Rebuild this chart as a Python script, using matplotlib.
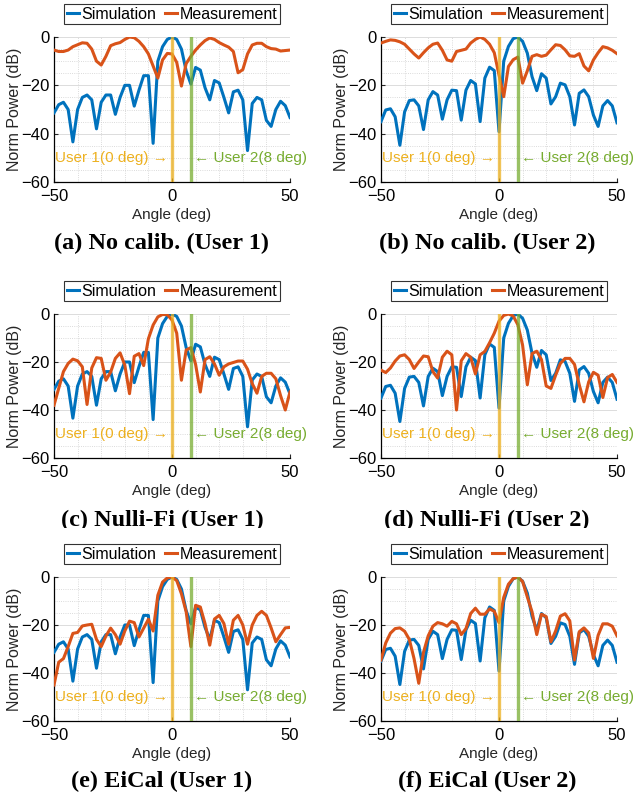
import numpy as np
import matplotlib
matplotlib.use('Agg')
import matplotlib.pyplot as plt
from matplotlib.ticker import MultipleLocator
from matplotlib.patches import Rectangle

plt.rcParams['font.family'] = ['Liberation Sans', 'DejaVu Sans']

# angle grid (deg)
angle = np.arange(-50, 51, 2)

# simulated beam patterns (dB), same in every row
sim_user1 = [-31.4, -28, -27, -30, -43.4, -30, -25, -24, -26, -38,
             -27, -24, -24, -32, -25, -20, -20, -28.6, -22, -16,
             -16, -44, -10, -4, -1, 0, -1, -5, -14, -19.5,
             -12.6, -13.7, -21, -26, -18, -19, -25, -31.4, -22.7, -22,
             -26, -47, -27.5, -25, -26, -34.5, -37, -30, -26.6, -28.4, -33.3]
sim_user2 = [-35, -30.2, -29.7, -33, -44.8, -31, -26.3, -26, -28.5, -38.3,
             -26, -22.6, -24, -34, -26, -22, -22.2, -34.4, -22, -18,
             -19.4, -35, -17, -12.5, -13.9, -39.2, -10, -3.9, -0.7, 0,
             -1.8, -6.7, -16.4, -22.2, -15.2, -17, -27.7, -24.7, -19.1, -19.8,
             -24.7, -36.4, -23.3, -21.9, -24.7, -32.3, -37, -28.5, -26.3, -28.5, -35.5]

# measured beam patterns (dB)
meas_nocal_user1 = [-5.4, -6, -6, -5.4, -4, -3.2, -2.4, -2.6, -5, -10,
                    -11.6, -8, -3.6, -2.8, -2.3, -1, 0, -0.3, -1.8, -4,
                    -7, -12, -17, -9.5, -6.8, -7, -10.5, -20.3, -11, -8,
                    -5.4, -3.3, -1.5, -0.4, -1, -2.3, -3.3, -4.2, -6, -14.8,
                    -13.5, -7, -3.3, -2.6, -2.6, -4, -4.8, -5, -5.8, -5.6, -5.4]
meas_nocal_user2 = [-2.5, -1.8, -1.2, -1.4, -2, -3, -5, -7, -8.7, -6.5,
                    -4.5, -3, -2.5, -5.5, -9.5, -10, -6, -5.5, -5, -2.5,
                    -1, 0, -1, -3, -6.5, -15.7, -24.7, -12.2, -9.4, -8.3,
                    -19.1, -14, -8, -7.3, -8, -7.5, -5.3, -3.2, -3.5, -5.3,
                    -7.8, -8, -6.9, -12, -14, -9.5, -6.5, -4, -4.5, -5.5, -6.9]
meas_nullifi_user1 = [-38, -31, -24, -20.6, -18.8, -19.5, -22, -37.7, -22.5, -18.2,
                      -18.5, -27.6, -24.2, -18.5, -16.2, -21.3, -33.2, -17.6, -16.5, -21.5,
                      -10.3, -4.6, -1.2, -0.2, -0.3, -2.5, -8, -27.6, -15, -14,
                      -21, -32.5, -19, -17.8, -20.8, -25.5, -22, -20.8, -20.2, -19.6,
                      -19.6, -23, -29, -33, -26, -24.7, -24.7, -27, -34, -40, -32.5]
meas_nullifi_user2 = [-23.4, -24.4, -22.5, -19.6, -17.5, -17, -19, -22.7, -20, -17.5,
                      -17.8, -24, -26.7, -18, -15.5, -17, -40, -19.5, -16.5, -18,
                      -25, -17, -15.6, -12, -8, -3, -0.6, 0, -0.8, -4.5,
                      -13, -29.5, -16.5, -15.5, -19, -30, -31, -25.5, -20.6, -18.5,
                      -18.5, -21, -29.5, -36.6, -28.3, -24.3, -25.5, -34.8, -26.5, -25.2, -28.5]
meas_eical_user1 = [-45, -35.5, -34, -29, -23.5, -23.1, -20.4, -20, -19.7, -26,
                    -29, -24.6, -21.3, -24, -28, -22.5, -18.4, -19, -25, -21.3,
                    -17.6, -22.5, -7.6, -2.1, -0.4, 0, -1.5, -7, -14.5, -29,
                    -11.8, -12.5, -19.4, -28.4, -17.5, -16, -19.4, -28, -18, -16,
                    -20, -28, -20, -16, -14.3, -16, -21.2, -27, -24, -21.2, -21]
meas_eical_user2 = [-34.6, -27.5, -23.4, -21.5, -21.2, -22.6, -26, -34, -44.3, -31.4,
                    -24.5, -20.5, -19, -19.5, -20.5, -18.5, -19.5, -24, -21.5, -15.2,
                    -13, -15.5, -15.5, -13.3, -14.3, -19, -8.5, -3, -0.7, 0,
                    -1.9, -8.3, -14.5, -24, -15.5, -16.5, -27, -22.5, -16.3, -15.3,
                    -18.3, -34.6, -22.8, -21.2, -23.3, -33.9, -24.3, -19.5, -19.5, -20.5, -24.5]

captions = ['(a) No calib. (User 1)', '(b) No calib. (User 2)',
            '(c) Nulli-Fi (User 1)', '(d) Nulli-Fi (User 2)',
            '(e) EiCal (User 1)', '(f) EiCal (User 2)']
sims = [sim_user1, sim_user2] * 3
meas = [meas_nocal_user1, meas_nocal_user2,
        meas_nullifi_user1, meas_nullifi_user2,
        meas_eical_user1, meas_eical_user2]

W, H = 633, 799
fig = plt.figure(figsize=(W / 100, H / 100), dpi=100)

col_lr = [(54, 290), (381, 617)]
row_tb = [(37, 182), (314, 458), (577, 721)]
cap_x = [162, 487]
cap_y = [243, 520, 781]

blue, red = '#0072BD', '#D95319'
yellow, green = '#EDB120', '#77AC30'

for i in range(6):
    r, c = divmod(i, 2)
    left, right = col_lr[c]
    top, bottom = row_tb[r]
    ax = fig.add_axes([left / W, 1 - bottom / H, (right - left) / W, (bottom - top) / H])

    ax.plot(angle, sims[i], color=blue, lw=2.2, label='Simulation', zorder=3)
    ax.plot(angle, meas[i], color=red, lw=2.2, label='Measurement', zorder=3)
    ax.axvline(0, color=yellow, lw=2.4, alpha=0.75, zorder=4)
    ax.axvline(8, color=green, lw=2.4, alpha=0.75, zorder=4)
    ax.text(-1.5, -50, 'User 1(0 deg) \u2192', color=yellow, ha='right', va='center',
            fontsize=11)
    ax.text(9.5, -50, '\u2190 User 2(8 deg)', color=green, ha='left', va='center',
            fontsize=11, clip_on=False)

    ax.set_xlim(-50, 50)
    ax.set_ylim(-60, 0)
    ax.set_xticks([-50, 0, 50])
    ax.set_yticks([-60, -40, -20, 0])
    ax.xaxis.set_minor_locator(MultipleLocator(10))
    ax.yaxis.set_minor_locator(MultipleLocator(5))
    ax.grid(which='major', color='#dcdcdc', lw=0.7, ls='-')
    ax.grid(which='minor', color='#cfcfcf', lw=0.6, ls=':')
    ax.set_axisbelow(True)
    for s in ['top', 'right']:
        ax.spines[s].set_visible(False)
    for s in ['left', 'bottom']:
        ax.spines[s].set_linewidth(0.9)
    ax.tick_params(which='major', direction='in', length=3, labelsize=12, color='#262626')
    ax.tick_params(axis='x', which='major', pad=5)
    ax.tick_params(axis='y', which='major', pad=3)
    ax.tick_params(which='minor', length=0)
    ax.set_xlabel('Angle (deg)', fontsize=11, labelpad=3, color='#262626')
    ax.set_ylabel('Norm Power (dB)', fontsize=11.5, color='#262626')
    ax.yaxis.set_label_coords(-0.135, 0.5)

    leg = ax.legend(loc='lower center', bbox_to_anchor=(0.5, 1.09), ncol=2,
                    fontsize=11.5, frameon=True, fancybox=False, edgecolor='black',
                    handlelength=0.8, handletextpad=0.15, columnspacing=0.5,
                    borderpad=0.15, borderaxespad=0)
    leg.get_frame().set_linewidth(0.8)

    fig.text(cap_x[c] / W, 1 - cap_y[r] / H, captions[i], ha='center', va='center',
             fontsize=17.5, fontweight='bold', family='Liberation Serif')

# the middle captions are cut off by the lower row
fig.patches.append(Rectangle((0, 1 - 541 / H), 1, 13 / H, transform=fig.transFigure,
                             facecolor='white', edgecolor='none', zorder=10))

fig.savefig('out.png', dpi=100)
